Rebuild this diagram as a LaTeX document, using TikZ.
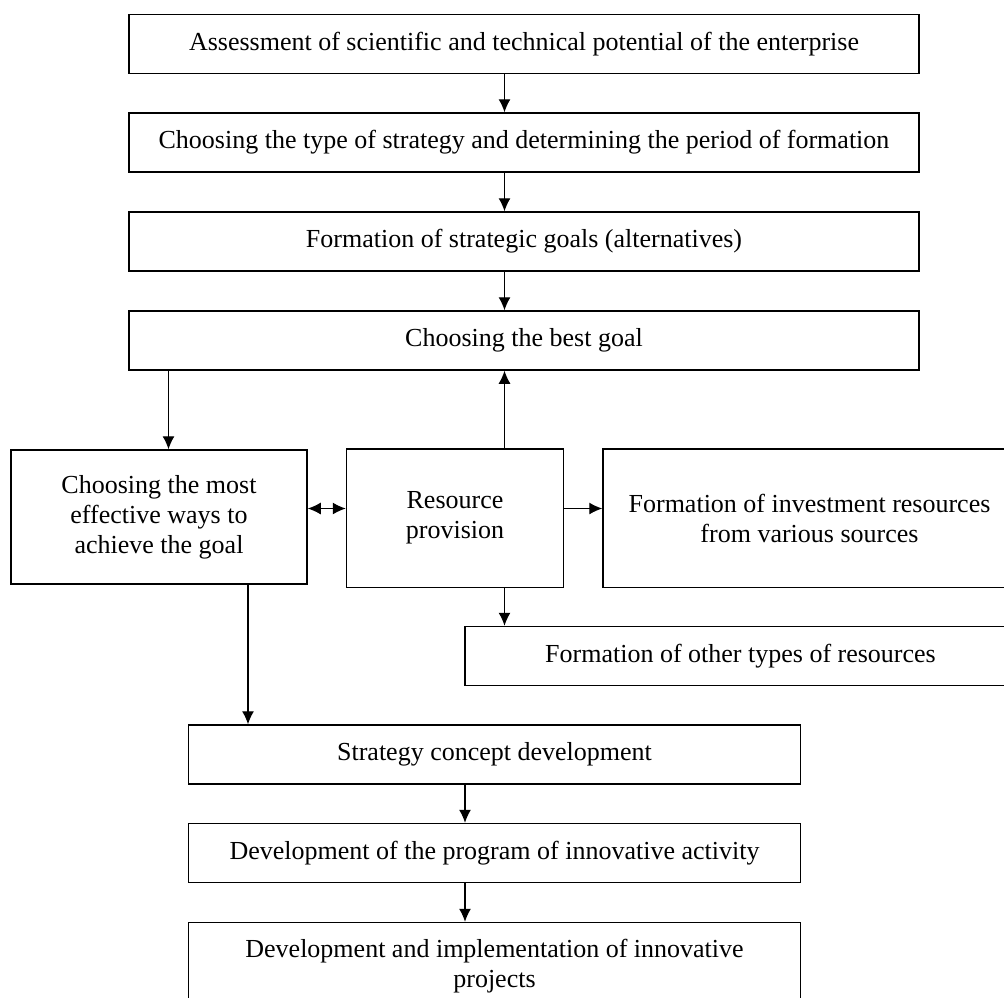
\documentclass[tikz,border=0pt]{standalone}
\usepackage{fontspec}
\setmainfont{Liberation Serif}
\usetikzlibrary{arrows.meta}

\tikzset{bloc/.style={draw,line width=0.75pt,minimum width=#1,minimum height=29.5pt,align=center,inner sep=2pt,font=\fontsize{13}{15}\selectfont},
bloc/.default={395pt},
fleche/.style={-{Latex[length=6.5pt,width=6pt]},line width=0.6pt},
doublefleche/.style={{Latex[length=6.5pt,width=6pt]}-{Latex[length=6.5pt,width=6pt]},line width=0.6pt}}

\begin{document}
\begin{tikzpicture}[x=0.5pt,y=-0.5pt]
\useasboundingbox (0,0) rectangle (1004,997);
\clip (0,0) rectangle (1004,997);
% colonne du haut
\node [bloc] (evaluation) at (524,44) {Assessment of scientific and technical potential of the enterprise};
\node [bloc] (type) at (524,142.5) {Choosing the type of strategy and determining the period of formation};
\node [bloc] (buts) at (524,241.5) {Formation of strategic goals (alternatives)};
\node [bloc] (meilleur) at (524,340.5) {Choosing the best goal};
% rangee du milieu
\node [bloc=148pt,minimum height=67pt] (voies) at (159,517) {Choosing the most\\effective ways to\\achieve the goal};
\node [bloc=108.5pt,minimum height=69.25pt] (ressources) at (455,518) {Resource\\provision};
\node [bloc=206.5pt,minimum height=69.25pt] (invest) at (809.5,518) {Formation of investment resources\\from various sources};
\node [bloc=275.5pt] (autres) at (740.5,656) {Formation of other types of resources};
% colonne du bas
\node [bloc=306pt] (concept) at (494.5,754.5) {Strategy concept development};
\node [bloc=306pt] (programme) at (494.5,853) {Development of the program of innovative activity};
\node [bloc=306pt,minimum height=44pt] (projets) at (494.5,966.5) {Development and implementation of innovative\\projects};

\coordinate (axe) at (504.5,0);
\coordinate (axeg) at (168.5,0);
\coordinate (axeb) at (248,0);
\coordinate (axec) at (465,0);
\coordinate (axeh) at (0,508.5);

\draw [fleche] (evaluation.south -| axe) -- (type.north -| axe);
\draw [fleche] (type.south -| axe) -- (buts.north -| axe);
\draw [fleche] (buts.south -| axe) -- (meilleur.north -| axe);
\draw [fleche] (meilleur.south -| axeg) -- (voies.north -| axeg);
\draw [fleche] (ressources.north -| axe) -- (meilleur.south -| axe);
\draw [doublefleche] (voies.east |- axeh) -- (ressources.west |- axeh);
\draw [fleche] (ressources.east |- axeh) -- (invest.west |- axeh);
\draw [fleche] (ressources.south -| axe) -- (autres.north -| axe);
\draw [fleche] (voies.south -| axeb) -- (concept.north -| axeb);
\draw [fleche] (concept.south -| axec) -- (programme.north -| axec);
\draw [fleche] (programme.south -| axec) -- (projets.north -| axec);
\end{tikzpicture}
\end{document}
